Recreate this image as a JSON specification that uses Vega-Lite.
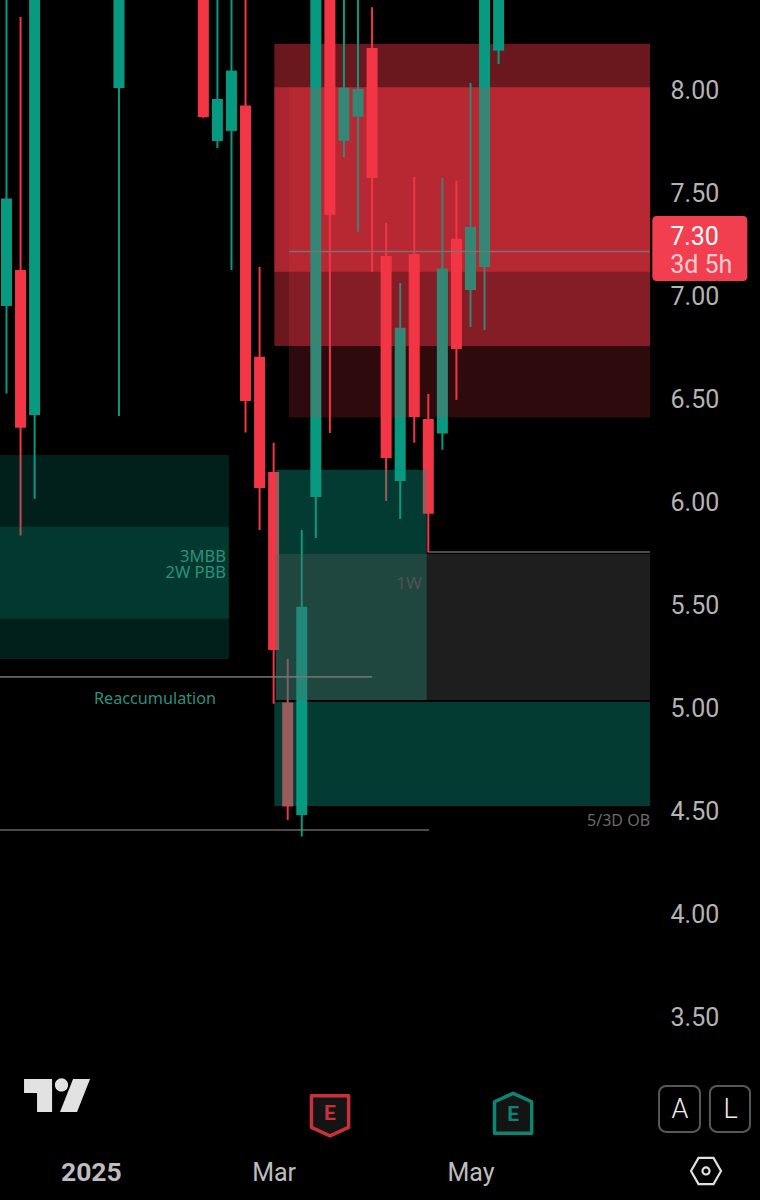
{"$schema":"https://vega.github.io/schema/vega-lite/v6.json","width":760,"height":1200,"padding":0,"autosize":"none","background":"#000000","config":{"view":{"stroke":null},"axis":{"grid":false,"domain":false,"ticks":false,"title":null}},
"datasets":{
"candles":[
{"i":0,"open":6.95,"close":7.473,"high":8.6,"low":6.525,"kind":"up"},
{"i":1,"open":7.125,"close":6.358,"high":8.355,"low":5.835,"kind":"down"},
{"i":2,"open":6.421,"close":8.8,"high":8.85,"low":6.014,"kind":"up"},
{"i":8,"open":8.01,"close":8.7,"high":8.75,"low":6.416,"kind":"up"},
{"i":14,"open":8.8,"close":7.869,"high":8.9,"low":7.864,"kind":"down"},
{"i":15,"open":7.752,"close":7.956,"high":8.6,"low":7.718,"kind":"up"},
{"i":16,"open":7.801,"close":8.094,"high":8.6,"low":7.125,"kind":"up"},
{"i":17,"open":7.924,"close":6.489,"high":8.6,"low":6.335,"kind":"down"},
{"i":18,"open":6.703,"close":6.066,"high":7.14,"low":5.862,"kind":"down"},
{"i":19,"open":6.144,"close":5.279,"high":6.285,"low":5.017,"kind":"down"},
{"i":20,"open":5.023,"close":4.518,"high":5.235,"low":4.453,"kind":"down"},
{"i":21,"open":4.477,"close":5.489,"high":5.862,"low":4.372,"kind":"up"},
{"i":22,"open":6.022,"close":8.7,"high":8.8,"low":5.823,"kind":"up"},
{"i":23,"open":8.6,"close":7.393,"high":8.7,"low":6.333,"kind":"down"},
{"i":24,"open":7.752,"close":8.011,"high":8.6,"low":7.674,"kind":"up"},
{"i":25,"open":7.87,"close":8.005,"high":8.6,"low":7.311,"kind":"up"},
{"i":26,"open":8.204,"close":7.572,"high":8.402,"low":7.117,"kind":"down"},
{"i":27,"open":7.193,"close":6.212,"high":7.354,"low":6.003,"kind":"down"},
{"i":28,"open":6.1,"close":6.844,"high":7.062,"low":5.915,"kind":"up"},
{"i":29,"open":7.203,"close":6.411,"high":7.577,"low":6.285,"kind":"down"},
{"i":30,"open":6.401,"close":5.94,"high":6.523,"low":5.755,"kind":"down"},
{"i":31,"open":6.33,"close":7.132,"high":7.572,"low":6.251,"kind":"up"},
{"i":32,"open":7.277,"close":6.741,"high":7.558,"low":6.494,"kind":"down"},
{"i":33,"open":7.028,"close":7.334,"high":8.034,"low":6.848,"kind":"up"},
{"i":34,"open":7.14,"close":8.7,"high":8.8,"low":6.834,"kind":"up"},
{"i":35,"open":8.191,"close":8.6,"high":8.7,"low":8.126,"kind":"up"}],
"zonesUnder":[
{"i":19.05,"i2":45.77,"top":8.224,"bottom":6.756,"kind":"redBase"},
{"i":19.05,"i2":45.77,"top":8.013,"bottom":7.117,"kind":"redCore"}],
"zonesOver":[
{"i":20.09,"i2":45.77,"top":8.013,"bottom":6.408,"kind":"redTop"},
{"i":-0.462,"i2":15.82,"top":6.226,"bottom":5.235,"kind":"greenDim"},
{"i":-0.462,"i2":15.82,"top":5.877,"bottom":5.43,"kind":"greenMid"},
{"i":19.15,"i2":29.89,"top":6.154,"bottom":5.036,"kind":"greenBox"},
{"i":19.05,"i2":45.77,"top":5.026,"bottom":4.521,"kind":"greenBox"},
{"i":19.15,"i2":45.77,"top":5.745,"bottom":5.036,"kind":"gray"}],
"levels":[
{"i":29.95,"i2":45.77,"top":5.755,"kind":"level"},
{"i":20.09,"i2":45.77,"top":7.215,"kind":"level"},
{"i":-0.462,"i2":26,"top":5.148,"kind":"level"},
{"i":-0.462,"i2":30.05,"top":4.404,"kind":"level"}],
"greenRight":[{"i":15.61,"top":5.731,"label":"3MBB"},{"i":15.61,"top":5.653,"label":"2W PBB"}],
"buttons":[{"i":46.41,"i2":49.32,"top":3.16,"bottom":2.937},{"i":50.03,"i2":52.88,"top":3.16,"bottom":2.937}],
"buttonText":[{"i":47.9,"top":3.045,"label":"A"},{"i":51.5,"top":3.045,"label":"L"}]
},
"encoding":{
"x":{"field":"i","type":"quantitative","scale":{"domain":[-0.462,53.59],"nice":false,"zero":false,"padding":0},"axis":{"orient":"bottom","values":[6,19,33],"labelExpr":"datum.value==6?'2025':datum.value==19?'Mar':'May'","labelPadding":-28,"labelBaseline":"middle","labelFont":"Roboto","labelFontSize":{"condition":{"test":"datum.value==6","value":26.5},"value":25},"labelColor":"#BDBDBD","labelFontWeight":{"condition":{"test":"datum.value==6","value":"bold"},"value":"normal"}},"title":null},
"y":{"field":"top","type":"quantitative","scale":{"domain":[2.606,8.437],"nice":false,"zero":false},"axis":{"orient":"right","values":[3.5,4,4.5,5,5.5,6,6.5,7,7.5,8],"format":".2f","labelPadding":-90,"labelAlign":"left","labelOffset":1,"labelFont":"Roboto","labelFontSize":25,"labelColor":"#B4B4B4"},"title":null}
},
"layer":[
{"data":{"name":"zonesUnder"},"mark":{"type":"rect"},"encoding":{"x2":{"field":"i2"},"y2":{"field":"bottom"},
"color":{"field":"kind","type":"nominal","legend":null,"scale":{"domain":["up","down","redBase","redCore","redTop","greenDim","greenMid","greenBox","gray","level"],"range":["#089981","#F23645","#F23645","#F23645","#F23645","#089981","#089981","#089981","#646464","#787878"]}},
"opacity":{"field":"kind","type":"nominal","legend":null,"scale":{"type":"ordinal","domain":["redBase","redCore","redTop","greenDim","greenMid","greenBox","gray"],"range":[0.44,0.47,0.19,0.21,0.2,0.38,0.3]}}}},
{"data":{"name":"candles"},"mark":{"type":"rule","strokeWidth":2,"clip":true},"encoding":{"y":{"field":"high","type":"quantitative","title":null},"y2":{"field":"low"},"color":{"field":"kind","type":"nominal","legend":null,"scale":{"domain":["up","down","redBase","redCore","redTop","greenDim","greenMid","greenBox","gray","level"],"range":["#089981","#F23645","#F23645","#F23645","#F23645","#089981","#089981","#089981","#646464","#787878"]}}}},
{"data":{"name":"candles"},"mark":{"type":"bar","size":11,"clip":true},"encoding":{"y":{"field":"open","type":"quantitative","title":null},"y2":{"field":"close"},"color":{"field":"kind","type":"nominal","legend":null,"scale":{"domain":["up","down","redBase","redCore","redTop","greenDim","greenMid","greenBox","gray","level"],"range":["#089981","#F23645","#F23645","#F23645","#F23645","#089981","#089981","#089981","#646464","#787878"]}}}},
{"data":{"name":"zonesOver"},"mark":{"type":"rect"},"encoding":{"x2":{"field":"i2"},"y2":{"field":"bottom"},"color":{"field":"kind","type":"nominal","legend":null,"scale":{"domain":["up","down","redBase","redCore","redTop","greenDim","greenMid","greenBox","gray","level"],"range":["#089981","#F23645","#F23645","#F23645","#F23645","#089981","#089981","#089981","#646464","#787878"]}},"opacity":{"field":"kind","type":"nominal","legend":null,"scale":{"type":"ordinal","domain":["redBase","redCore","redTop","greenDim","greenMid","greenBox","gray"],"range":[0.44,0.47,0.19,0.21,0.2,0.38,0.3]}}}},
{"data":{"name":"levels"},"mark":{"type":"rule","strokeWidth":1.6,"opacity":0.85},"encoding":{"x2":{"field":"i2"},"color":{"field":"kind","type":"nominal","legend":null,"scale":{"domain":["up","down","redBase","redCore","redTop","greenDim","greenMid","greenBox","gray","level"],"range":["#089981","#F23645","#F23645","#F23645","#F23645","#089981","#089981","#089981","#646464","#787878"]}}}},
{"data":{"name":"greenRight"},"mark":{"type":"text","align":"right","baseline":"middle","font":"Noto Sans","fontSize":16.5,"fontWeight":400,"color":"#2B917E"},"encoding":{"text":{"field":"label"}}},
{"data":{"values":[{"i":6.225,"top":5.04,"label":"Reaccumulation"}]},"mark":{"type":"text","align":"left","baseline":"middle","font":"Noto Sans","fontSize":16.2,"fontWeight":400,"color":"#2B917E"},"encoding":{"text":{"field":"label"}}},
{"data":{"values":[{"i":29.53,"top":5.6,"label":"1W"}]},"mark":{"type":"text","align":"right","baseline":"middle","font":"Noto Sans","fontSize":17,"color":"#505050"},"encoding":{"text":{"field":"label"}}},
{"data":{"values":[{"i":45.77,"top":4.448,"label":"5/3D OB"}]},"mark":{"type":"text","align":"right","baseline":"middle","font":"Noto Sans","fontSize":16,"color":"#6A6A6A"},"encoding":{"text":{"field":"label"}}},
{"data":{"values":[{"i":45.93,"i2":52.69,"top":7.388,"bottom":7.072}]},"mark":{"type":"rect","cornerRadius":4,"color":"#F23F4F"},"encoding":{"x2":{"field":"i2"},"y2":{"field":"bottom"}}},
{"data":{"values":[{"i":47.2,"top":7.287,"label":"7.30"}]},"mark":{"type":"text","align":"left","baseline":"middle","font":"Roboto","fontSize":25,"color":"#FFFFFF"},"encoding":{"text":{"field":"label"}}},
{"data":{"values":[{"i":47.2,"top":7.151,"label":"3d 5h"}]},"mark":{"type":"text","align":"left","baseline":"middle","font":"Roboto","fontSize":25,"color":"#F8CDD1"},"encoding":{"text":{"field":"label"}}},
{"data":{"values":[{"i":3.595,"top":3.114}]},"mark":{"type":"point","filled":true,"opacity":1,"color":"#E2E2E2","size":4356,"shape":"M-1,-0.5 L-0.15,-0.5 L-0.15,0.5 L-0.606,0.5 L-0.606,-0.076 L-1,-0.076 Z M0.336,-0.318 A0.2,0.2 0 1 1 -0.064,-0.318 A0.2,0.2 0 1 1 0.336,-0.318 Z M0.485,-0.5 L1,-0.5 L0.606,0.5 L0.09,0.5 Z"}},
{"data":{"values":[{"i":23.01,"top":3.015}]},"mark":{"type":"point","filled":true,"opacity":1,"fill":"#141414","stroke":"#C8303C","strokeWidth":3.5,"strokeJoin":"round","size":1600,"shape":"M-0.93,-1 L0.93,-1 L0.93,0.58 L0,1 L-0.93,0.58 Z"}},
{"data":{"values":[{"i":36.03,"top":3.027}]},"mark":{"type":"point","filled":true,"opacity":1,"fill":"#141414","stroke":"#0E8573","strokeWidth":3.5,"strokeJoin":"round","size":1600,"shape":"M0,-1 L0.93,-0.58 L0.93,1 L-0.93,1 L-0.93,-0.58 Z"}},
{"data":{"values":[{"i":23.01,"top":3.025,"label":"E"}]},"mark":{"type":"text","align":"center","baseline":"middle","font":"Roboto","fontWeight":"bold","fontSize":21,"color":"#C8303C"},"encoding":{"text":{"field":"label"}}},
{"data":{"values":[{"i":36.03,"top":3.02,"label":"E"}]},"mark":{"type":"text","align":"center","baseline":"middle","font":"Roboto","fontWeight":"bold","fontSize":21,"color":"#0E8573"},"encoding":{"text":{"field":"label"}}},
{"data":{"name":"buttons"},"mark":{"type":"rect","cornerRadius":7,"fill":"#000000","stroke":"#585858","strokeWidth":2,"opacity":1},"encoding":{"x2":{"field":"i2"},"y2":{"field":"bottom"}}},
{"data":{"name":"buttonText"},"mark":{"type":"text","align":"center","baseline":"middle","font":"Roboto","fontWeight":300,"fontSize":27,"color":"#EDEDED"},"encoding":{"text":{"field":"label"}}},
{"data":{"values":[{"i":49.75,"top":2.747}]},"mark":{"type":"point","filled":false,"opacity":1,"stroke":"#E0E0E0","strokeWidth":2.2,"size":900,"shape":"M-1,0 L-0.5,-0.87 L0.5,-0.87 L1,0 L0.5,0.87 L-0.5,0.87 Z"}},
{"data":{"values":[{"i":49.75,"top":2.747}]},"mark":{"type":"point","shape":"circle","filled":false,"opacity":1,"stroke":"#E0E0E0","strokeWidth":2.2,"size":50}}
]}
